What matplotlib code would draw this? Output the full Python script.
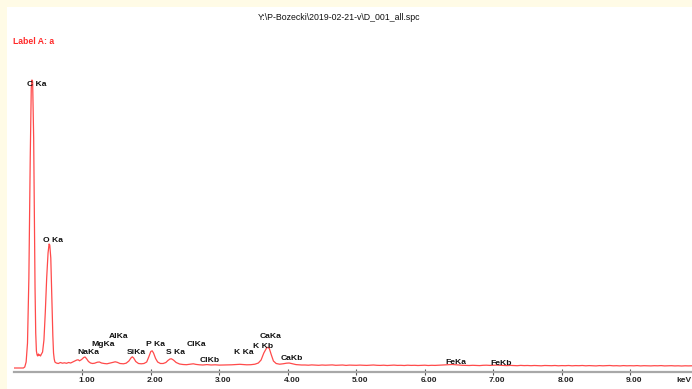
import numpy as np
import matplotlib
matplotlib.use("Agg")
import matplotlib.pyplot as plt
from matplotlib.patches import Rectangle
from matplotlib.transforms import ScaledTranslation, blended_transform_factory

# ---- spectrum: low-energy region (keV, counts) ----
energy_low = [
    0.00, 0.10, 0.14, 0.16, 0.18, 0.20, 0.22, 0.24, 0.255, 0.265, 0.275, 0.29,
    0.30, 0.31, 0.32, 0.33, 0.34, 0.35, 0.36, 0.37, 0.38, 0.39, 0.40, 0.42,
    0.44, 0.46, 0.48, 0.50, 0.515, 0.525, 0.54, 0.555, 0.57, 0.58, 0.59, 0.60,
    0.62, 0.65, 0.68, 0.71, 0.74, 0.77, 0.80, 0.83, 0.86, 0.89, 0.92, 0.94,
    0.96, 0.99, 1.02, 1.04, 1.06, 1.09, 1.12, 1.15, 1.18, 1.22, 1.25, 1.28,
    1.32, 1.36, 1.40, 1.44, 1.48, 1.51, 1.55, 1.60, 1.64, 1.68, 1.71, 1.73,
    1.75, 1.78, 1.82, 1.86, 1.90, 1.94, 1.97, 2.00, 2.02, 2.04, 2.07, 2.10,
    2.14, 2.18, 2.22, 2.25, 2.28, 2.30, 2.33, 2.37, 2.42, 2.47, 2.52, 2.57,
    2.62, 2.66, 2.71, 2.76, 2.82, 2.88, 2.94, 3.00, 3.06, 3.12, 3.18, 3.24,
    3.30, 3.35, 3.40, 3.46, 3.52, 3.57, 3.61, 3.65, 3.69, 3.71, 3.73, 3.76,
    3.79, 3.83, 3.88, 3.93, 3.98, 4.02, 4.06, 4.12, 4.20,
]
counts_low = [
    0, 0, 0, 10, 60, 250, 900, 2100, 2800, 2880, 2860, 2300,
    1500, 800, 350, 170, 130, 120, 140, 125, 130, 120, 135, 160,
    280, 560, 900, 1150, 1240, 1230, 1100, 700, 320, 150, 90, 60,
    50, 45, 55, 48, 52, 47, 55, 50, 60, 70, 80, 82,
    72, 85, 105, 110, 95, 65, 50, 45, 48, 58, 60, 50,
    45, 42, 48, 55, 62, 57, 45, 42, 48, 70, 100, 112,
    100, 65, 45, 42, 45, 60, 110, 165, 172, 150, 95, 60,
    45, 45, 55, 75, 90, 92, 80, 55, 40, 35, 33, 38,
    42, 36, 32, 30, 34, 30, 32, 29, 30, 31, 32, 35,
    37, 34, 32, 33, 38, 50, 80, 150, 200, 207, 195, 130,
    70, 45, 38, 42, 48, 50, 44, 34, 30,
]

# ---- spectrum: high-energy tail, channels every 0.05 keV from 4.25 to 9.90 ----
counts_tail = [
    30, 28, 31, 29, 27, 30, 28, 29, 31, 27, 28, 30, 26, 29, 28, 27,
    29, 27, 26, 28, 30, 27, 26, 28, 25, 27, 29, 26, 27, 25, 28, 26, 27, 25, 26, 28,
    25, 27, 26, 28, 29, 31, 33, 35, 32, 29, 27, 26, 25, 27, 26, 24, 27, 28, 26, 27,
    29, 27, 25, 24, 26, 25, 23, 26, 24, 25, 23, 25, 24, 22, 25, 24, 23, 25, 22, 24,
    23, 25, 22, 24, 23, 25, 22, 24, 23, 21, 24, 22, 23, 25, 22, 23, 21, 24, 22, 23,
    22, 24, 21, 23, 22, 21, 23, 22, 24, 21, 22, 23, 21, 22, 20, 22, 21, 22,
]
energy_tail = np.linspace(4.25, 9.90, len(counts_tail))

# ---- identified lines ----
line_names = ["C Ka", "O Ka", "NaKa", "MgKa", "AlKa", "SiKa", "P Ka", "S Ka",
              "ClKa", "ClKb", "K Ka", "K Kb", "CaKa", "CaKb", "FeKa", "FeKb"]
line_energy = [0.277, 0.525, 1.041, 1.253, 1.486, 1.739, 2.013, 2.307,
               2.621, 2.815, 3.312, 3.589, 3.690, 4.012, 6.398, 7.057]
label_height = [2840, 1270, 160, 240, 320, 160, 240, 150,
                230, 70, 150, 220, 310, 90, 53, 47]

tick_values = [1, 2, 3, 4, 5, 6, 7, 8, 9]
tick_labels = ["1.00", "2.00", "3.00", "4.00", "5.00", "6.00", "7.00", "8.00", "9.00"]

title_text = "Y:\\P-Bozecki\\2019-02-21-v\\D_001_all.spc"
label_text = "Label A: a"

energy = np.concatenate([energy_low, energy_tail])
counts = np.concatenate([counts_low, counts_tail])

W, H, DPI = 692, 389, 100
fig = plt.figure(figsize=(W / DPI, H / DPI), dpi=DPI, facecolor="#FFFBE6")
fig.patches.append(Rectangle((7 / W, 0), 1, 1 - 7 / H, transform=fig.transFigure,
                             facecolor="white", edgecolor="none", zorder=-10))

font = "Liberation Sans"
ax = fig.add_axes([13.8 / W, (H - 372) / H, (W - 13.8) / W, 312 / H])
ax.set_facecolor("none")
ax.set_xlim(0, (W - 13.8) / 68.5)
ax.set_ylim(-40, 3080)

ax.plot(energy, counts, color="#FF4A4A", lw=0.9, solid_joinstyle="round")

for s in ["top", "right", "left"]:
    ax.spines[s].set_visible(False)
ax.spines["bottom"].set_color("#A8A8A8")
ax.spines["bottom"].set_linewidth(1.6)
ax.set_yticks([])
ax.set_xticks(tick_values)
ax.set_xticklabels([])
ax.tick_params(axis="x", direction="inout", length=4, width=0.8, color="#555555")

off = ScaledTranslation(3.5 / DPI, 0, fig.dpi_scale_trans)
blend = blended_transform_factory(ax.transData, ax.transAxes)
tick_off = ScaledTranslation(4 / DPI, -9 / DPI, fig.dpi_scale_trans)
for v, t in zip(tick_values, tick_labels):
    ax.text(v, 0, t, transform=blend + tick_off, ha="center", va="center",
            fontsize=6.0, fontweight="bold", family=font, color="#222222")
fig.text(676 / W, (H - 381) / H, "keV", ha="left", va="center",
         fontsize=6.0, fontweight="bold", family=font, color="#222222")

for name, e, h in zip(line_names, line_energy, label_height):
    ax.text(e, h, name, transform=ax.transData + off, ha="center", va="center",
            fontsize=6.1, fontweight="bold", family=font, color="#111111")

fig.text(339 / W, (H - 18) / H, title_text, ha="center", va="center",
         fontsize=6.3, family=font, color="#111111")
fig.text(13 / W, (H - 41) / H, label_text, ha="left", va="center",
         fontsize=6.2, fontweight="bold", family=font, color="#FF2A2A")

fig.savefig("out.png", dpi=DPI, facecolor=fig.get_facecolor())
